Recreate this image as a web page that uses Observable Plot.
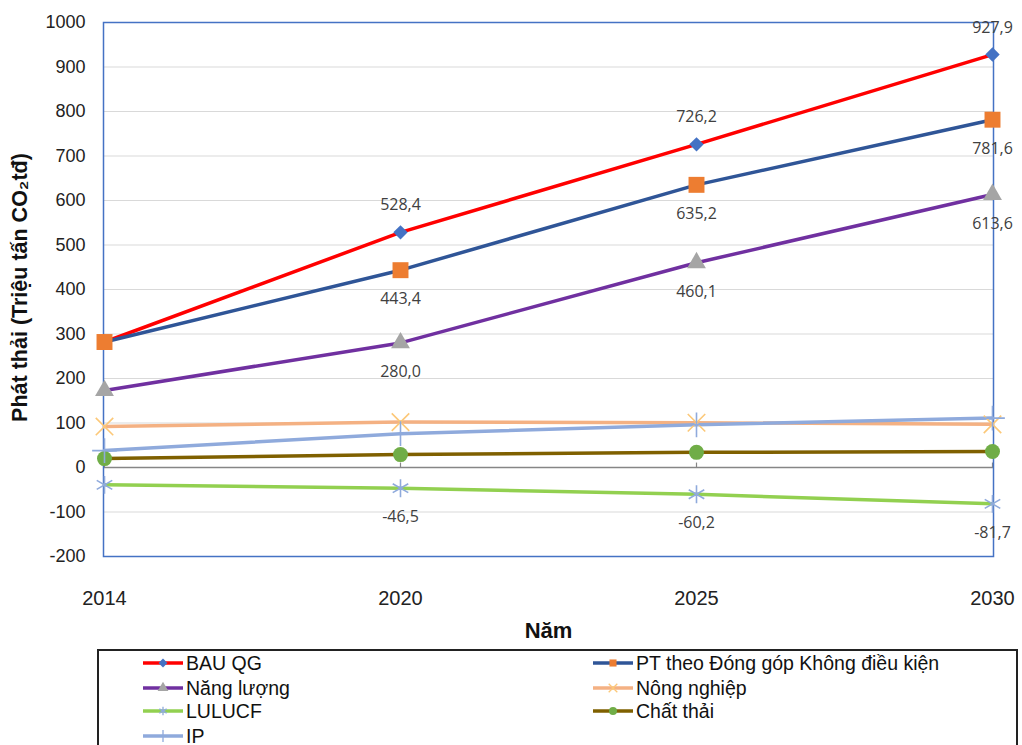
<!DOCTYPE html>
<html>
<head>
<meta charset="utf-8">
<script src="https://cdn.jsdelivr.net/npm/d3@7"></script>
<script src="https://cdn.jsdelivr.net/npm/@observablehq/plot@0.6"></script>
<style>
  body { margin: 0; background: #fff; }
  #wrap { position: relative; width: 1022px; height: 745px; overflow: hidden; }
  #legend { position: absolute; left: 97px; top: 649px; width: 921px; height: 110px;
            border: 2px solid #222; box-sizing: border-box; background: #fff; }
  .item { position: absolute; display: flex; align-items: center; height: 24px;
          font-family: "Liberation Sans", Arial, sans-serif;
          font-size: 19.5px; color: #111; }
  .item svg { display: block; margin-right: 2px; }
</style>
</head>
<body>
<div id="wrap">
  <div id="chart"></div>
  <div id="legend"></div>
</div>
<script>
const years = ["2014", "2020", "2025", "2030"];
const seriesNames = ["BAU QG", "PT theo Đóng góp Không điều kiện", "Năng lượng", "Nông nghiệp", "LULUCF", "Chất thải", "IP"];
const bauQG      = [282.0, 528.4, 726.2, 927.9];
const ptKhongDK  = [282.0, 443.4, 635.2, 781.6];
const nangLuong  = [173.0, 280.0, 460.1, 613.6];
const nongNghiep = [92.0, 102.0, 100.5, 97.0];
const lulucf     = [-39.0, -46.5, -60.2, -81.7];
const chatThai   = [20.0, 29.0, 34.0, 36.0];
const ipSeries   = [38.0, 76.0, 96.0, 111.0];
const yTicks = [-200, -100, 0, 100, 200, 300, 400, 500, 600, 700, 800, 900, 1000];

const seriesValues = [bauQG, ptKhongDK, nangLuong, nongNghiep, lulucf, chatThai, ipSeries];
const lineColors   = ["#ff0000", "#2f5597", "#7030a0", "#f4b183", "#92d050", "#7f6000", "#8faadc"];
const markColors   = ["#4472c4", "#ed7d31", "#a5a5a5", "#fcc878", "#8faadc", "#70ad47", "#8faadc"];
const markSymbols  = ["diamond2", "square", "triangle", "times", "asterisk", "circle", "plus"];
const markR        = [6.5, 9, 7, 8, 8.5, 7.5, 8];
const strokeSymbols = new Set(["times", "asterisk", "plus"]);
// label placement per series: "above", "below" or null
const labelPos = ["above", "below", "below", null, "below", null, null];

const rows = [];
seriesNames.forEach((s, i) => years.forEach((y, j) => rows.push({series: s, idx: i, year: y, value: seriesValues[i][j]})));

const fmt = v => d3.format(".1f")(v).replace("−", "-").replace(".", ",");
const labelFont = "'Open Sans', 'Noto Sans', sans-serif";

const marks = [
  Plot.gridY(yTicks, {stroke: "#d9d9d9", strokeOpacity: 1, strokeWidth: 1}),
  Plot.ruleY([0], {stroke: "#868686", strokeWidth: 1.5}),
  Plot.ruleX(years, {x: d => d, y1: 0, y2: 10, stroke: "#868686", strokeWidth: 1.2}),
  Plot.frame({stroke: "#4472c4", strokeWidth: 1.5}),
  Plot.axisY(yTicks, {tickSize: 0, tickPadding: 18, fontSize: 18, fill: "#222", label: null, tickFormat: d => String(d)}),
  Plot.axisX({tickSize: 0, tickPadding: 34, fontSize: 20, fill: "#222", label: null}),
];

seriesNames.forEach((s, i) => {
  const data = rows.filter(r => r.idx === i);
  marks.push(Plot.line(data, {x: "year", y: "value", stroke: lineColors[i], strokeWidth: 3.5}));
});
seriesNames.forEach((s, i) => {
  const data = rows.filter(r => r.idx === i);
  const sym = markSymbols[i];
  const opts = {x: "year", y: "value", symbol: () => sym, r: markR[i]};
  if (strokeSymbols.has(sym)) { opts.stroke = markColors[i]; opts.strokeWidth = 1.6; opts.fill = "none"; }
  else { opts.fill = markColors[i]; opts.stroke = "none"; }
  marks.push(Plot.dot(data, opts));
});
seriesNames.forEach((s, i) => {
  if (!labelPos[i]) return;
  const data = rows.filter(r => r.idx === i && r.year !== years[0]);
  marks.push(Plot.text(data, {
    x: "year", y: "value", text: d => fmt(d.value),
    dy: labelPos[i] === "above" ? -27 : 29,
    fontSize: 16, fontFamily: labelFont, fill: "#404040", lineAnchor: "middle"
  }));
});
marks.push(Plot.text(["Năm"], {frameAnchor: "bottom", dy: 74, text: d => d, fontSize: 22, fontWeight: "bold", fill: "#111", lineAnchor: "middle"}));
marks.push(Plot.text(["Phát thải (Triệu tấn CO₂tđ)"], {frameAnchor: "left", textAnchor: "middle", dx: -83, dy: -2, rotate: -90, text: d => d, fontSize: 21.5, fontWeight: "bold", fill: "#111", lineAnchor: "middle"}));

const chart = Plot.plot({
  width: 1022,
  height: 645,
  marginLeft: 103,
  marginRight: 29,
  marginTop: 22,
  marginBottom: 89,
  style: {fontFamily: "'Liberation Sans', Arial, sans-serif", background: "#fff", overflow: "visible"},
  x: {type: "point", domain: years, padding: 0},
  y: {domain: [-200, 1000]},
  marks
});
document.getElementById("chart").appendChild(chart);

// Legend (HTML, below the SVG)
const legend = d3.select("#legend");
const pos = [[43, 12], [493, 12], [43, 37], [493, 37], [43, 60], [493, 60], [43, 85]];
seriesNames.forEach((s, i) => {
  const item = legend.append("div").attr("class", "item")
    .style("left", pos[i][0] + "px").style("top", (pos[i][1] - 12) + "px");
  const svg = item.append("svg").attr("width", 42).attr("height", 20);
  svg.append("line").attr("x1", 1).attr("x2", 41).attr("y1", 10).attr("y2", 10)
    .attr("stroke", lineColors[i]).attr("stroke-width", 3.5);
  const sym = markSymbols[i];
  const d3sym = {diamond2: d3.symbolDiamond2, square: d3.symbolSquare, triangle: d3.symbolTriangle,
    times: d3.symbolTimes, asterisk: d3.symbolAsterisk, circle: d3.symbolCircle, plus: d3.symbolPlus}[sym];
  const p = svg.append("path").attr("transform", "translate(21,10)")
    .attr("d", d3.symbol(d3sym, Math.PI * 4 * 4)());
  if (strokeSymbols.has(sym)) p.attr("fill", "none").attr("stroke", markColors[i]).attr("stroke-width", 1.3);
  else p.attr("fill", markColors[i]);
  item.append("span").text(s);
});
</script>
</body>
</html>
